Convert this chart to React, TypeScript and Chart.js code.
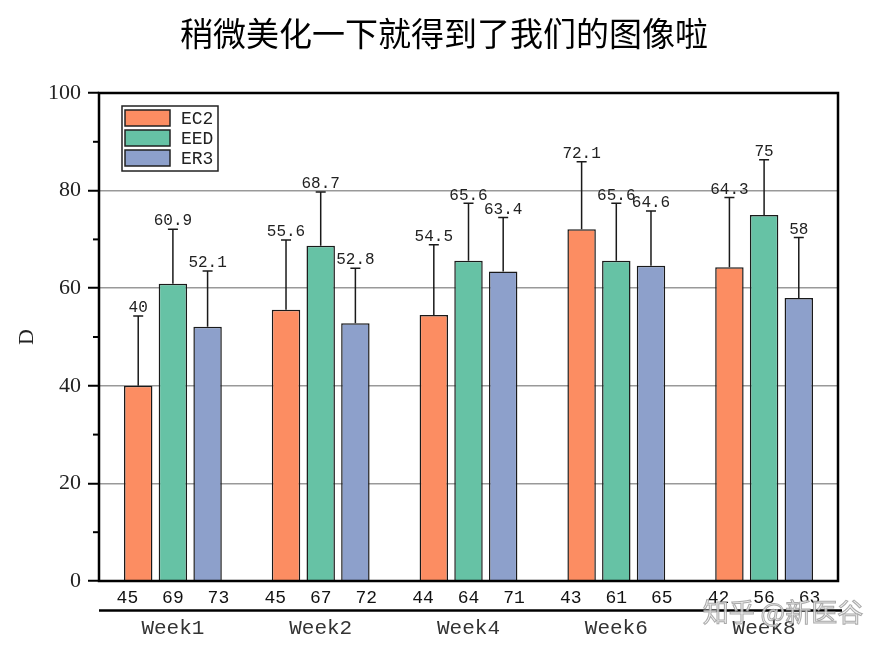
import React, { useEffect, useRef } from 'react';
import { Chart, registerables } from 'chart.js';

Chart.register(...registerables);

const titleText = '稍微美化一下就得到了我们的图像啦';
const yAxisTitle = 'D';
const watermarkText = '知乎 @新医谷';
const weeks = ['Week1', 'Week2', 'Week4', 'Week6', 'Week8'];
const seriesNames = ['EC2', 'EED', 'ER3'];
const seriesColors = ['#FC8D62', '#66C2A5', '#8DA0CB'];

const ec2Values = [40, 55.6, 54.5, 72.1, 64.3];
const eedValues = [60.9, 68.7, 65.6, 65.6, 75];
const er3Values = [52.1, 52.8, 63.4, 64.6, 58];

const ec2Err = [14.3, 14.3, 14.4, 13.8, 14.3];
const eedErr = [11.2, 11.0, 11.8, 11.8, 11.3];
const er3Err = [11.4, 11.3, 11.1, 11.2, 12.4];

const ec2N = [45, 45, 44, 43, 42];
const eedN = [69, 67, 64, 61, 56];
const er3N = [73, 72, 71, 65, 63];

const yMin = 0;
const yMax = 100;
const yStep = 20;
const yMinorTicks = [10, 30, 50, 70, 90];

export default function App() {
  const ref = useRef<HTMLCanvasElement>(null);

  useEffect(() => {
    if (!ref.current) return;
    const values = [ec2Values, eedValues, er3Values];
    const errs = [ec2Err, eedErr, er3Err];
    const ns = [ec2N, eedN, er3N];

    const custom = {
      id: 'custom',
      afterDatasetsDraw(chart: any) {
        const ctx = chart.ctx;
        const y = chart.scales.y;
        const x = chart.scales.x;
        const ca = chart.chartArea;
        ctx.save();
        chart.data.datasets.forEach((ds: any, di: number) => {
          const meta = chart.getDatasetMeta(di);
          meta.data.forEach((bar: any, i: number) => {
            const v = values[di][i];
            const top = y.getPixelForValue(v + errs[di][i]);
            const base = y.getPixelForValue(v);
            ctx.strokeStyle = '#1a1a1a';
            ctx.lineWidth = 1.5;
            ctx.beginPath();
            ctx.moveTo(bar.x, base);
            ctx.lineTo(bar.x, top);
            ctx.moveTo(bar.x - 5, top);
            ctx.lineTo(bar.x + 5, top);
            ctx.stroke();
            ctx.fillStyle = '#222';
            ctx.font = '16px "Liberation Mono"';
            ctx.textAlign = 'center';
            ctx.textBaseline = 'middle';
            ctx.fillText(String(v), bar.x, top - 8);
            // n labels, spread under each group
            ctx.fillStyle = '#111';
            ctx.font = '18px "Liberation Mono"';
            const cx = x.getPixelForValue(i) + (di - 1) * 45.5;
            ctx.fillText(String(ns[di][i]), cx, ca.bottom + 17);
          });
        });
        ctx.restore();
      },
      afterDraw(chart: any) {
        const ctx = chart.ctx;
        const ca = chart.chartArea;
        const y = chart.scales.y;
        const x = chart.scales.x;
        ctx.save();
        ctx.strokeStyle = '#000';
        ctx.lineWidth = 2.5;
        ctx.strokeRect(ca.left, ca.top, ca.right - ca.left, ca.bottom - ca.top);
        ctx.lineWidth = 2;
        yMinorTicks.forEach((t) => {
          const py = y.getPixelForValue(t);
          ctx.beginPath();
          ctx.moveTo(ca.left - 6, py);
          ctx.lineTo(ca.left, py);
          ctx.stroke();
        });
        ctx.lineWidth = 2.5;
        ctx.beginPath();
        ctx.moveTo(ca.left, ca.bottom + 29.5);
        ctx.lineTo(ca.right + 4, ca.bottom + 29.5);
        ctx.stroke();
        ctx.fillStyle = '#333';
        ctx.font = '21px "Liberation Mono"';
        ctx.textAlign = 'center';
        ctx.textBaseline = 'middle';
        weeks.forEach((w, i) => {
          ctx.fillText(w, x.getPixelForValue(i), ca.bottom + 47);
        });
        const lx = ca.left + 23;
        const ly = ca.top + 13;
        ctx.fillStyle = '#fff';
        ctx.fillRect(lx, ly, 96, 65);
        ctx.strokeStyle = '#222';
        ctx.lineWidth = 1.5;
        ctx.strokeRect(lx, ly, 96, 65);
        chart.data.datasets.forEach((ds: any, i: number) => {
          const cy = ly + 12 + i * 20;
          ctx.fillStyle = ds.backgroundColor;
          ctx.fillRect(lx + 3, cy - 8, 45, 16);
          ctx.strokeStyle = '#222';
          ctx.lineWidth = 1.5;
          ctx.strokeRect(lx + 3, cy - 8, 45, 16);
          ctx.fillStyle = '#222';
          ctx.font = '18px "Liberation Mono"';
          ctx.textAlign = 'left';
          ctx.textBaseline = 'middle';
          ctx.fillText(ds.label, lx + 59, cy + 1);
        });
        ctx.fillStyle = '#000';
        ctx.font = '33px "Noto Sans CJK SC"';
        ctx.textAlign = 'center';
        ctx.textBaseline = 'middle';
        ctx.fillText(titleText, 444, 33);
        ctx.save();
        ctx.translate(27, (ca.top + ca.bottom) / 2);
        ctx.rotate(-Math.PI / 2);
        ctx.font = '22px "Liberation Serif"';
        ctx.fillStyle = '#222';
        ctx.fillText(yAxisTitle, 0, 0);
        ctx.restore();
        ctx.font = '26px "Noto Sans CJK SC"';
        ctx.textAlign = 'center';
        ctx.fillStyle = 'rgba(240,240,240,0.85)';
        ctx.fillText(watermarkText, 783, 612);
        ctx.strokeStyle = 'rgba(150,150,150,0.8)';
        ctx.lineWidth = 1;
        ctx.strokeText(watermarkText, 783, 612);
        ctx.restore();
      },
    };

    const chart = new Chart(ref.current, {
      type: 'bar',
      data: {
        labels: weeks,
        datasets: seriesNames.map((name, i) => ({
          label: name,
          data: values[i],
          backgroundColor: seriesColors[i],
          borderColor: '#1a1a1a',
          borderWidth: 1.5,
          categoryPercentage: 0.704,
          barPercentage: 0.82,
        })),
      },
      options: {
        animation: false,
        responsive: false,
        devicePixelRatio: 1,
        layout: { padding: { top: 93, right: 50, left: 0, bottom: 0 } },
        plugins: {
          legend: { display: false },
          tooltip: { enabled: false },
          title: { display: false },
        },
        scales: {
          x: {
            ticks: { display: false },
            grid: { display: false, drawTicks: false },
            border: { display: false },
            afterFit: (s: any) => { s.height = 69; },
          },
          y: {
            min: yMin,
            max: yMax,
            ticks: {
              stepSize: yStep,
              color: '#222',
              font: { family: '"Liberation Serif"', size: 22 },
              padding: 7,
            },
            grid: {
              color: (c: any) => (c.tick && (c.tick.value === yMin || c.tick.value === yMax) ? 'rgba(0,0,0,0)' : '#999'),
              lineWidth: 1.5,
              tickColor: '#000',
              tickLength: 11,
              tickWidth: 2,
            },
            border: { display: false },
            afterFit: (s: any) => { s.width = 99; },
          },
        },
      },
      plugins: [custom],
    });
    return () => chart.destroy();
  }, []);

  return (
    <div style={{ position: 'absolute', left: 0, top: 0, width: 888, height: 650, background: '#fff' }}>
      <canvas ref={ref} width={888} height={650} />
    </div>
  );
}
